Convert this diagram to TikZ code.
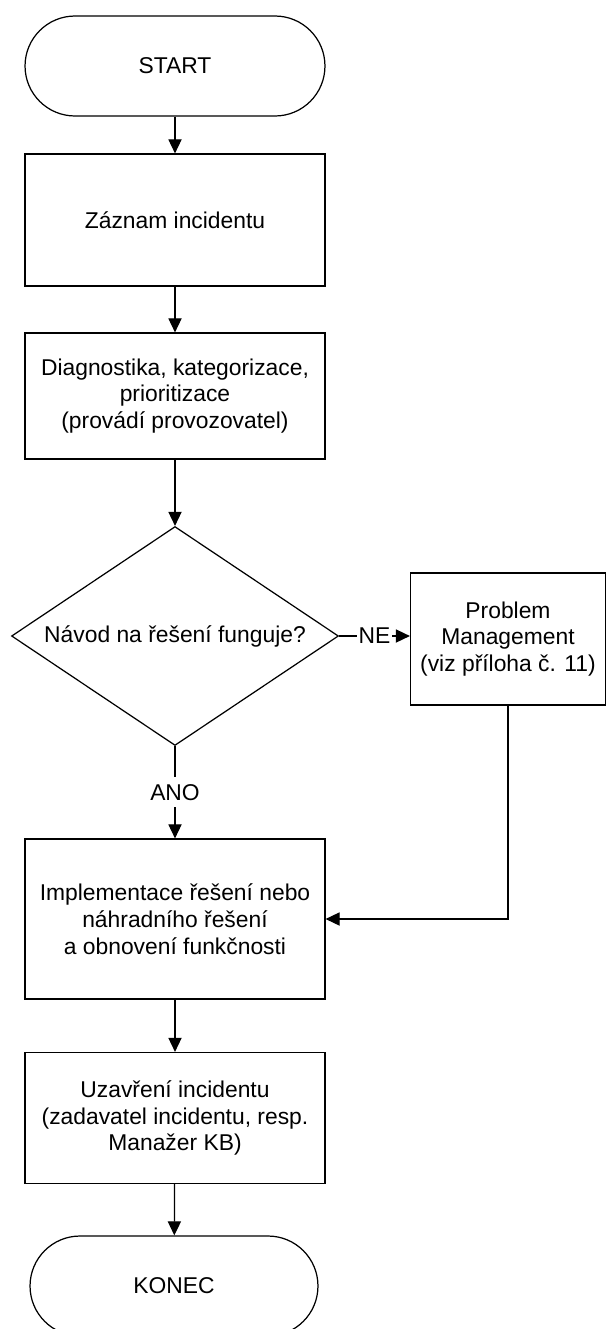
\documentclass[tikz,border=0pt]{standalone}
\usepackage{fontspec}
\setmainfont{Liberation Sans}
\usetikzlibrary{shapes.geometric,arrows.meta}

\begin{document}
\begin{tikzpicture}[x=0.02cm, y=-0.02cm, line width=0.7pt,
	font=\fontsize{13}{15.2}\selectfont,
	proc/.style={draw, rectangle, minimum width=6cm, align=center},
	term/.style={draw, rectangle, rounded corners=1cm, minimum width=6cm, minimum height=2cm},
	decis/.style={draw, diamond, aspect=1.5, inner sep=0pt, minimum width=6.54cm, minimum height=4.38cm},
	yesno/.style={fill=white, inner xsep=1pt, inner ysep=4pt},
	>={Triangle[length=8pt, width=7.5pt]}]
	% Fix the page size
	\useasboundingbox (0,0) rectangle (607,1329);
	% Draw the main column
	\node[term] (start) at (175,66) {START};
	\node[proc, minimum height=2.64cm] (rec) at (175,220) {Záznam incidentu};
	\node[proc, minimum height=2.52cm] (diag) at (175,396) {Diagnostika, kategorizace,\\prioritizace\\(provádí provozovatel)};
	\node[decis] (dec) at (175,636) {Návod na řešení funguje?};
	\node[proc, minimum height=3.2cm] (impl) at (175,919) {Implementace řešení nebo\\náhradního řešení\\a obnovení funkčnosti};
	\node[proc, minimum height=2.62cm] (close) at (175,1118) {Uzavření incidentu\\(zadavatel incidentu, resp.\\Manažer KB)};
	\node[term, minimum width=5.76cm] (stop) at (174,1286) {KONEC};
	% Draw the side box
	\node[proc, minimum width=3.9cm, minimum height=2.64cm] (pm) at (508,639) {Problem\\Management\\(viz příloha č. 11)};
	% Draw the arrows
	\foreach \a/\b in {start/rec, rec/diag, diag/dec, impl/close, close/stop} {
		\draw[->] (\a) -- (\b);
	}
	\draw[->] (dec) -- node[yesno] {ANO} (impl);
	\draw[->] (dec.east) -- node[yesno] {NE} (dec.east -| pm.west);
	\draw[->] (pm) |- (impl);
\end{tikzpicture}
\end{document}
